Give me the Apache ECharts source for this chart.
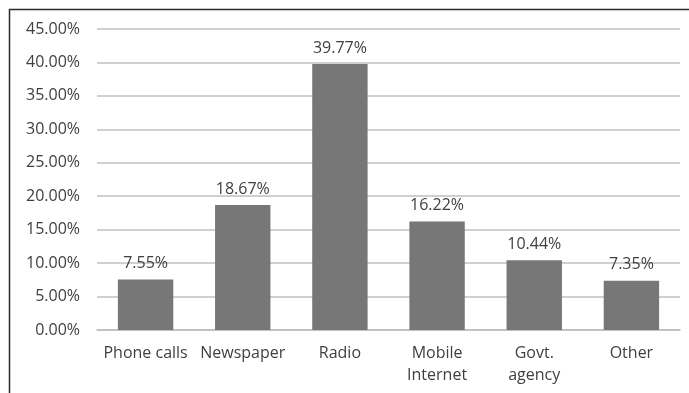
<!DOCTYPE html>
<html>
<head>
<meta charset="utf-8">
<script src="https://cdn.jsdelivr.net/npm/echarts@6/dist/echarts.min.js"></script>
<style>
  html, body { margin: 0; padding: 0; background: #fff; }
  #chart { width: 689px; height: 393px; }
</style>
</head>
<body>
<div id="chart"></div>
<script>
// Information sources and their share of respondents (%)
const categories = ['Phone calls', 'Newspaper', 'Radio', 'Mobile\nInternet', 'Govt.\nagency', 'Other'];
const shares = [7.55, 18.67, 39.77, 16.22, 10.44, 7.35];
const yTicks = { min: 0, max: 45, interval: 5 };

const chart = echarts.init(document.getElementById('chart'), null, { renderer: 'canvas' });
const textColor = '#3f3f3f';
const fontFamily = '"Open Sans", "Noto Sans", sans-serif';

chart.setOption({
  animation: false,
  backgroundColor: '#ffffff',
  grid: { left: 97, right: 9, top: 29, bottom: 63 },
  graphic: [
    { type: 'line', shape: { x1: 9, y1: 9.5, x2: 689, y2: 9.5 }, style: { stroke: '#2b2b2b', lineWidth: 1.5 } },
    { type: 'line', shape: { x1: 9.5, y1: 9, x2: 9.5, y2: 393 }, style: { stroke: '#2b2b2b', lineWidth: 1.5 } }
  ],
  xAxis: {
    type: 'category',
    data: categories,
    axisLine: { show: true, lineStyle: { color: '#bfbfbf', width: 1.5 } },
    axisTick: { show: false },
    axisLabel: {
      color: textColor, fontSize: 16, fontFamily: fontFamily,
      margin: 12, lineHeight: 22, interval: 0
    }
  },
  yAxis: {
    type: 'value',
    min: yTicks.min, max: yTicks.max, interval: yTicks.interval,
    axisLine: { show: false },
    axisTick: { show: false },
    splitLine: { lineStyle: { color: '#bfbfbf', width: 1.5 } },
    axisLabel: {
      color: textColor, fontSize: 16, fontFamily: fontFamily, margin: 17,
      formatter: v => v.toFixed(2) + '%'
    }
  },
  series: [{
    type: 'bar',
    data: shares,
    barWidth: '57%',
    itemStyle: { color: '#777777' },
    label: {
      show: true, position: 'top', distance: 8,
      color: textColor, fontSize: 16, fontFamily: fontFamily,
      formatter: p => p.value.toFixed(2) + '%'
    }
  }]
});
</script>
</body>
</html>
